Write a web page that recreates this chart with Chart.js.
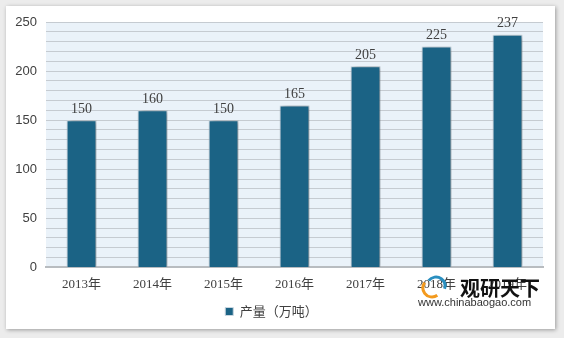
<!DOCTYPE html>
<html>
<head>
<meta charset="utf-8">
<script src="https://cdn.jsdelivr.net/npm/chart.js@4"></script>
<style>
  html, body { margin: 0; padding: 0; background: #ececec; }
  #panel {
    position: absolute; left: 6px; top: 6px; width: 549px; height: 323px;
    background: #fff; box-shadow: 1px 1px 4px rgba(0,0,0,0.35);
  }
  #wrap { position: absolute; left: 0; top: 0; width: 564px; height: 338px; }
</style>
</head>
<body>
<div id="panel"></div>
<div id="wrap"><canvas id="grafico" width="564" height="338"></canvas></div>
<script>
// dados
const anos = ["2013年", "2014年", "2015年", "2016年", "2017年", "2018年", "2019年"];
const producao = [150, 160, 150, 165, 205, 225, 237];
const rotuloSerie = "产量（万吨）";
const ticksY = [0, 50, 100, 150, 200, 250];

const corBarra = "#1b6385";

// fundo azul claro da área do gráfico
const fundoArea = {
  id: "fundoArea",
  beforeDraw(chart) {
    const { ctx, chartArea: a } = chart;
    ctx.save();
    ctx.fillStyle = "#eaf2f9";
    ctx.fillRect(a.left, a.top, a.right - a.left, a.bottom - a.top);
    ctx.restore();
  },
  beforeDatasetDraw(chart) {
    const ctx = chart.ctx;
    ctx.save();
    ctx.shadowColor = "rgba(0,0,0,0.45)";
    ctx.shadowBlur = 5;
    ctx.shadowOffsetX = 2;
    ctx.shadowOffsetY = 1;
  },
  afterDatasetDraw(chart) {
    chart.ctx.restore();
  },
};

// valores em cima das barras
const rotulos = {
  id: "rotulos",
  afterDatasetsDraw(chart) {
    const { ctx } = chart;
    const meta = chart.getDatasetMeta(0);
    ctx.save();
    ctx.fillStyle = "#404040";
    ctx.font = "14px 'Liberation Serif', 'Noto Sans CJK SC'";
    ctx.textAlign = "center";
    ctx.textBaseline = "bottom";
    meta.data.forEach((bar, i) => {
      ctx.fillText(producao[i], bar.x, bar.y - 4);
    });
    ctx.restore();
  },
};

// marca d'água
const marca = {
  id: "marca",
  afterDraw(chart) {
    const ctx = chart.ctx;
    ctx.save();
    ctx.lineWidth = 3;
    ctx.strokeStyle = "#f39a1e";
    ctx.beginPath();
    ctx.arc(432, 288, 9, Math.PI * 0.3, Math.PI * 1.2);
    ctx.stroke();
    ctx.strokeStyle = "#2a8fc0";
    ctx.beginPath();
    ctx.arc(436, 286, 9, Math.PI * 1.2, Math.PI * 2.1);
    ctx.stroke();
    ctx.fillStyle = "#111";
    ctx.font = "bold 20px 'Noto Sans CJK SC'";
    ctx.textBaseline = "middle";
    ctx.fillText("观研天下", 460, 288);
    ctx.fillStyle = "#333";
    ctx.font = "11px 'Liberation Sans'";
    ctx.fillText("www.chinabaogao.com", 418, 303);
    ctx.restore();
  },
};

new Chart(document.getElementById("grafico"), {
  type: "bar",
  data: {
    labels: anos,
    datasets: [
      {
        label: rotuloSerie,
        data: producao,
        backgroundColor: corBarra,
        borderColor: "#c9d6e0",
        borderWidth: 1,
        barPercentage: 0.42,
        categoryPercentage: 1,
      },
    ],
  },
  options: {
    responsive: false,
    animation: false,
    layout: { padding: { left: 0, right: 21, top: 22, bottom: 10 } },
    plugins: {
      tooltip: { enabled: false },
      legend: {
        position: "bottom",
        labels: {
          boxWidth: 8,
          boxHeight: 8,
          color: "#404040",
          font: { size: 13, family: "'Noto Sans CJK SC'" },
          padding: 4,
        },
      },
    },
    scales: {
      x: {
        grid: { display: false, drawTicks: false },
        border: { color: "#b8bcc0", width: 2 },
        ticks: {
          color: "#404040",
          padding: 9,
          font: { size: 13, family: "'Liberation Serif', 'Noto Sans CJK SC'" },
        },
      },
      y: {
        min: 0,
        max: 250,
        afterFit(scale) {
          scale.width = 46;
        },
        grid: { color: "#c5cbd1", drawTicks: false },
        border: { display: false },
        ticks: {
          stepSize: 10,
          autoSkip: false,
          padding: 9,
          color: "#404040",
          font: { size: 13, family: "'Liberation Sans'" },
          callback: (v) => (ticksY.includes(v) ? v : ""),
        },
      },
    },
  },
  plugins: [fundoArea, rotulos, marca],
});
</script>
</body>
</html>
